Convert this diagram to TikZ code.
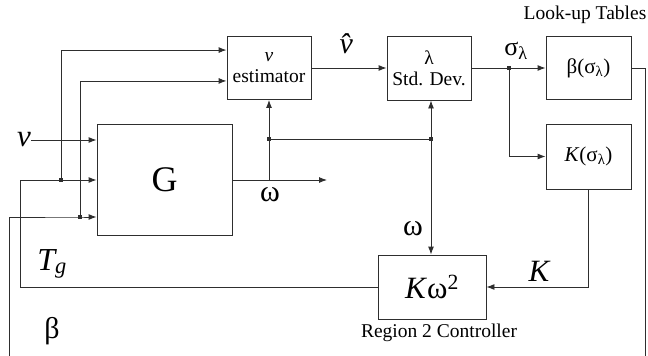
\documentclass[tikz,border=0pt]{standalone}
\usepackage{fontspec}
\setmainfont{Liberation Serif}
\usetikzlibrary{arrows.meta,positioning,calc}
\definecolor{Ink}{HTML}{2E2E2E}

\begin{document}
\begin{tikzpicture}[x=1pt,y=-1pt,
    blk/.style={draw=Ink,line width=0.9pt,inner sep=0pt,align=center,font=\fontsize{19.5}{21}\selectfont},
    lbl/.style={inner sep=0pt,font=\fontsize{30}{30}\selectfont},
    note/.style={inner sep=0pt,font=\fontsize{19.5}{20}\selectfont},
    dot/.style={fill=Ink,inner sep=0pt,minimum size=4pt},
    a/.style={-{Latex[length=8pt,width=6pt]},line width=0.9pt,draw=Ink},
    l/.style={line width=0.9pt,draw=Ink}]
  \useasboundingbox (0,0) rectangle (648,356);
  % blocks
  \node[blk,minimum width=84pt,minimum height=63pt] (est) at (269,68) {\textit{v}\\estimator};
  \node[blk,minimum width=84pt,minimum height=64pt] (std) at (429,68) {λ\\Std. Dev.};
  \node[blk,minimum width=85pt,minimum height=63pt,font=\fontsize{21}{21}\selectfont] (beta) at (588.5,68) {β(σ\textsubscript{λ})};
  \node[blk,minimum width=85pt,minimum height=65pt,font=\fontsize{21}{21}\selectfont] (ksig) at (588.5,156.5) {\textit{K}(σ\textsubscript{λ})};
  \node[blk,minimum width=135pt,minimum height=111pt,font=\fontsize{36}{36}\selectfont] (G) at (164.5,180) {G};
  \node[blk,minimum width=108pt,minimum height=64pt,font=\fontsize{31}{31}\selectfont] (kw) at (432,287) {\textit{K}ω\textsuperscript{2}};
  \node[note] (lut) at (585,15) {Look-up Tables};
  \node[note] (reg) at (439,333) {Region 2 Controller};
  % junctions
  \coordinate (j1) at (61,180);
  \coordinate (j2) at (80,217);
  \coordinate (tg) at (20,180);
  \coordinate (bL) at (9,356);
  \coordinate (bR) at (645,356);
  \coordinate (wout) at (327,180);
  \coordinate (jw) at (est.south |- G.east);
  \coordinate (jm) at (269,139);
  \coordinate (jd) at (431,139);
  \coordinate (js) at (509,68);
  % labels
  \node[lbl,font=\fontsize{31}{31}\selectfont\itshape] (vin) at (24,140) {v};
  \node[lbl] (vhat) at (352,44) {\textit{\^{v}}};
  \node[lbl,font=\fontsize{26}{26}\selectfont] (sig) at (516,51) {σ\textsubscript{λ}};
  \node[lbl] (w1) at (270,195) {ω};
  \node[lbl] (w2) at (413,229) {ω};
  \node[lbl,font=\fontsize{31}{31}\selectfont\itshape] (klbl) at (539,271) {K};
  \node[lbl,font=\fontsize{32}{32}\selectfont\itshape] (tglbl) at (52,264) {T\textsubscript{g}};
  \node[lbl] (blbl) at (52,331) {β};
  % connectors
  \draw[a] (vin.east) -- (vin.east -| G.west);
  \draw[a] (kw.west) -| (tg) -- (G.west);
  \draw[l] (beta.east) -| (bR);
  \draw[a] (bL) |- (j2) -- (j2 -| G.west);
  \draw[a] (j1) |- ($(est.north west)+(0,14)$);
  \draw[a] (j2) |- ($(est.south west)+(0,-19)$);
  \draw[a] (G.east) -- (wout);
  \draw[a] (jw) -- (est.south);
  \draw[l] (jm) -- (jd);
  \draw[a] (jd) -- (jd |- std.south);
  \draw[a] (jd) -- (jd |- kw.north);
  \draw[a] (est.east) -- (std.west);
  \draw[a] (std.east) -- (beta.west);
  \draw[a] (js) |- (ksig.west);
  \draw[a] (ksig.south) |- (kw.east);
  \foreach \p in {j1,j2,jm,jd,js} \node[dot] at (\p) {};
\end{tikzpicture}
\end{document}
